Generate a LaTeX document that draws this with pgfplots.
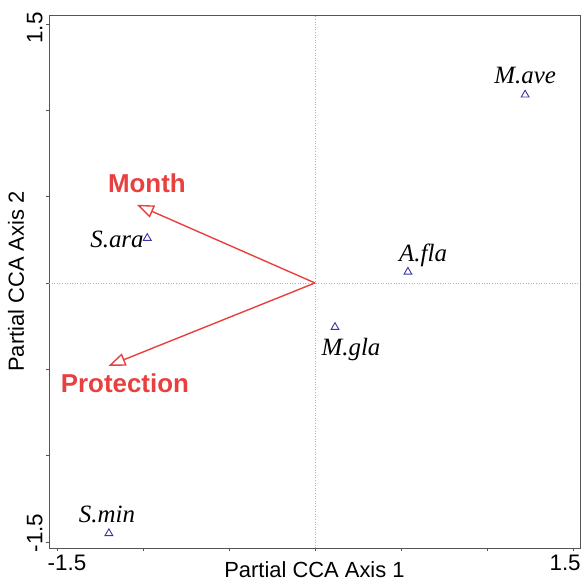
\documentclass[border=0pt]{standalone}
\usepackage{fontspec}
\setmainfont{Liberation Sans}
\newfontfamily\timesfont{Liberation Serif}
\usepackage{pgfplots}
\pgfplotsset{compat=1.18}
\usetikzlibrary{arrows.meta}
\definecolor{arrred}{HTML}{E8403F}
\definecolor{trinavy}{HTML}{3A35A8}
\definecolor{axgray}{HTML}{555555}
\begin{document}
\begin{tikzpicture}
\path[use as bounding box] (-49bp,-35bp) rectangle (533bp,548bp);
\begin{axis}[
  at={(0,0)}, anchor=south west,
  width=531bp, height=533bp, scale only axis,
  xmin=-1.546, xmax=1.54, ymin=-1.535, ymax=1.552,
  axis line style={axgray, line width=0.9pt},
  xtick={-1.5,-1,-0.5,0,0.5,1,1.5},
  ytick={-1.5,-1,-0.5,0,0.5,1,1.5},
  xticklabels={{\hspace*{20bp}-1.5},,,,,,{1.5\hspace*{16bp}}},
  yticklabels={{\hspace*{20bp}-1.5},,,,,,{1.5\hspace*{6bp}}},
  tick align=outside, major tick length=3bp,
  tick style={axgray, line width=0.8pt},
  xtick pos=bottom, ytick pos=left,
  ticklabel style={font=\fontsize{22.5}{26}\selectfont},
  yticklabel style={rotate=90, anchor=south, xshift=-1bp},
  xticklabel style={yshift=-1bp},
  xlabel={Partial CCA Axis 1},
  ylabel={Partial CCA Axis 2},
  label style={font=\fontsize{22}{26}\selectfont, inner sep=0pt},
  xlabel style={at={(axis description cs:0.5,-0.040)}, anchor=center},
  ylabel style={at={(axis description cs:-0.062,0.5)}, anchor=center},
  clip=false,
]
% zero lines
\addplot[gray!60, dotted, line width=0.6pt, forget plot] coordinates {(-1.546,0) (1.54,0)};
\addplot[gray!60, dotted, line width=0.6pt, forget plot] coordinates {(0,-1.535) (0,1.552)};
% environmental arrows
\addplot[arrred, line width=1.4pt, -{Triangle[open, length=17bp, width=13bp, line width=1.4pt]}] coordinates {(0,0) (-1.035,0.453)};
\addplot[arrred, line width=1.4pt, -{Triangle[open, length=17bp, width=13bp, line width=1.4pt]}] coordinates {(0,0) (-1.20,-0.48)};
% species
\addplot[only marks, mark=triangle, mark size=4.5bp, trinavy, mark options={line width=0.9pt}] coordinates {
 (1.221,1.09) (0.540,0.064) (0.116,-0.256) (-0.975,0.260) (-1.198,-1.450)};
\node[font=\timesfont\itshape\fontsize{25}{28}\selectfont] at (axis cs:1.221,1.204) {M.ave};
\node[font=\timesfont\itshape\fontsize{25}{28}\selectfont] at (axis cs:-1.151,0.255) {S.ara};
\node[font=\timesfont\itshape\fontsize{25}{28}\selectfont] at (axis cs:0.628,0.162) {A.fla};
\node[font=\timesfont\itshape\fontsize{25}{28}\selectfont] at (axis cs:0.209,-0.388) {M.gla};
\node[font=\timesfont\itshape\fontsize{25}{28}\selectfont] at (axis cs:-1.209,-1.343) {S.min};
\node[font=\bfseries\fontsize{26}{30}\selectfont, text=arrred] at (axis cs:-0.977,0.579) {Month};
\node[font=\bfseries\fontsize{26}{30}\selectfont, text=arrred] at (axis cs:-1.105,-0.579) {Protection};
\end{axis}
\end{tikzpicture}
\end{document}
